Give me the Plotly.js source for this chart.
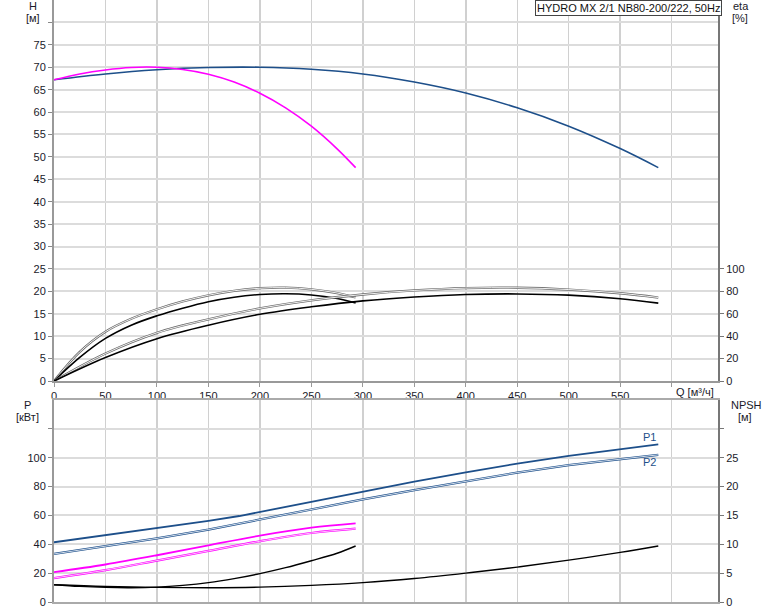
<!DOCTYPE html>
<html>
<head>
<meta charset="utf-8">
<script src="https://cdn.plot.ly/plotly-3.0.1.min.js"></script>
<style>html,body{margin:0;padding:0;background:#fff;}#chart{width:774px;height:611px;}</style>
</head>
<body>
<div id="chart"></div>
<script>
// ---- Data ----
// Single pump (magenta) flow points, m3/h
const qSmall = [0, 25, 50, 75, 100, 125, 150, 175, 200, 225, 250, 275, 293];
const hSmall = [67.2, 68.5, 69.4, 69.95, 70.0, 69.5, 68.45, 66.7, 64.2, 60.95, 56.85, 51.8, 47.6];
const etaSmallA = [0, 26, 44, 55.5, 64, 71, 76.5, 80.5, 82.8, 83.3, 81.8, 78.5, 74.6];   // light/double curve
const etaSmallB = [0, 21, 38, 49.8, 58.2, 65, 70.8, 74.8, 77.2, 77.9, 76.8, 73.6, 69.6]; // black curve
const npshSmall = [3.0, 2.7, 2.53, 2.48, 2.58, 2.88, 3.35, 4.05, 4.92, 5.95, 7.15, 8.45, 9.7];

const qSmallP = [0, 50, 100, 150, 200, 250, 293];
const p1Small = [20.7, 26, 32.4, 39.3, 46, 51.5, 54.5];
const p2Small = [16.6, 22.1, 28.7, 35.4, 42.1, 47.8, 50.8];

// Two pumps (blue) flow points, m3/h
const qLarge = [0, 50, 100, 150, 200, 250, 300, 350, 400, 450, 500, 550, 587];
const hLarge = [67.2, 68.5, 69.43, 69.93, 70.0, 69.55, 68.5, 66.7, 64.25, 60.95, 56.85, 51.85, 47.6];
const etaLargeA = [0, 24.5, 43, 55, 64.8, 72, 77.2, 80.8, 82.9, 83.2, 81.6, 78.3, 74.5];
const etaLargeB = [0, 21, 37.8, 49.8, 59.5, 66.2, 71.5, 75, 77.2, 77.7, 76.6, 73.4, 69.5];
const npshLarge = [3.0, 2.7, 2.53, 2.48, 2.58, 2.88, 3.35, 4.07, 5.0, 6.05, 7.25, 8.6, 9.71];

const qLargeP1 = [0, 50, 100, 150, 180, 200, 250, 300, 350, 400, 450, 500, 550, 587];
const p1Large = [41.4, 46.3, 51.3, 56.3, 59.6, 62.4, 69.5, 76.8, 83.4, 89.9, 95.9, 101.3, 105.9, 109.2];
const qLargeP2 = [0, 50, 100, 150, 200, 250, 300, 350, 400, 450, 500, 550, 587];
const p2Large = [33.3, 38.5, 44.1, 50.2, 57.3, 64.3, 71.1, 77.5, 83.8, 89.7, 94.9, 99.1, 102];

// Axis ticks
const qTicks = [0, 50, 100, 150, 200, 250, 300, 350, 400, 450, 500, 550, 600];
const qTickText = ['0','50','100','150','200','250','300','350','400','450','500','550',''];
const hTicks = [0,5,10,15,20,25,30,35,40,45,50,55,60,65,70,75,80];
const hTickText = ['0','5','10','15','20','25','30','35','40','45','50','55','60','65','70','75',''];
const etaTicks = [0, 20, 40, 60, 80, 100];
const pTicks = [0, 20, 40, 60, 80, 100, 120];
const pTickText = ['0','20','40','60','80','100',''];
const npshTicks = [0, 5, 10, 15, 20, 25, 30];
const npshTickText = ['0','5','10','15','20','25',''];

const title = 'HYDRO MX 2/1 NB80-200/222, 50Hz';

// ---- Styles ----
const BLUE = '#1d4f8a';
const MAG = '#ff00ff';
const W = 774, H = 611;
const FONT = 'Liberation Sans, Arial, sans-serif';
const TXT = '#1a1a2a';

function line(x, y, xa, ya, color, width, shape) {
  return {x: x, y: y, xaxis: xa, yaxis: ya, type: 'scatter', mode: 'lines',
    hoverinfo: 'skip', line: {color: color, width: width, shape: shape || 'spline', smoothing: 1}};
}
function dbl(x, y, xa, ya, color, inner, shape, w) {
  return [line(x, y, xa, ya, color, w || 2.3, shape), line(x, y, xa, ya, inner, 0.9, shape)];
}

const traces = [
  // H curves
  line(qLarge, hLarge, 'x', 'y', BLUE, 1.6),
  line(qSmall, hSmall, 'x', 'y', MAG, 1.6),
  // efficiency curves
  ...dbl(qSmall, etaSmallA, 'x', 'y2', '#6a6a6a', '#ffffff'),
  line(qSmall, etaSmallB, 'x', 'y2', '#000', 1.6),
  ...dbl(qLarge, etaLargeA, 'x', 'y2', '#6a6a6a', '#ffffff'),
  line(qLarge, etaLargeB, 'x', 'y2', '#000', 1.6),
  // power curves
  line(qLargeP1, p1Large, 'x2', 'y3', BLUE, 1.8, 'linear'),
  ...dbl(qLargeP2, p2Large, 'x2', 'y3', BLUE, '#e6edf6', 'linear', 2.2),
  line(qSmallP, p1Small, 'x2', 'y3', MAG, 1.8),
  ...dbl(qSmallP, p2Small, 'x2', 'y3', MAG, '#ffd6ff', 'spline', 2.2),
  // NPSH
  line(qSmall, npshSmall, 'x2', 'y4', '#000', 1.4),
  line(qLarge, npshLarge, 'x2', 'y4', '#000', 1.4)
];

const xdom = [54 / W, 718 / W];
const topDom = [(H - 381) / H, 1];
const botDom = [(H - 602) / H, (H - 400) / H];
const tickfont = {family: FONT, size: 11, color: TXT};

const gridH = '#dcdcdc', gridV = '#d0d0d0';

const layout = {
  width: W, height: H,
  margin: {l: 0, r: 0, t: 0, b: 0},
  paper_bgcolor: '#fff', plot_bgcolor: '#fff',
  showlegend: false,
  font: {family: FONT, size: 11, color: TXT},
  xaxis: {domain: xdom, anchor: 'y', range: [0, 645], tickmode: 'array', tickvals: qTicks, ticktext: qTickText,
    showgrid: true, gridcolor: gridV, gridwidth: 1.5, zeroline: false,
    showline: true, linecolor: '#999', linewidth: 2, ticks: 'outside', ticklen: 4, tickcolor: '#999', tickfont: tickfont},
  yaxis: {domain: topDom, anchor: 'x', range: [0, 85], tickmode: 'array', tickvals: hTicks, ticktext: hTickText,
    showgrid: true, gridcolor: gridH, gridwidth: 2, zeroline: false,
    showline: true, linecolor: '#999', linewidth: 2, ticks: 'outside', ticklen: 4, tickcolor: '#888', tickfont: tickfont},
  yaxis2: {overlaying: 'y', side: 'right', anchor: 'x', range: [0, 340], tickmode: 'array', tickvals: etaTicks,
    showgrid: false, zeroline: false, showline: true, linecolor: '#777', linewidth: 2,
    ticks: 'outside', ticklen: 4, tickcolor: '#777', tickfont: tickfont},
  xaxis2: {domain: xdom, anchor: 'y3', range: [0, 645], tickmode: 'array', tickvals: qTicks, showticklabels: false,
    showgrid: true, gridcolor: gridV, gridwidth: 1.5, zeroline: false,
    showline: true, mirror: true, linecolor: '#aaa', linewidth: 2, ticks: ''},
  yaxis3: {domain: botDom, anchor: 'x2', range: [0, 140], tickmode: 'array', tickvals: pTicks, ticktext: pTickText,
    showgrid: true, gridcolor: gridH, gridwidth: 2, zeroline: false,
    showline: true, linecolor: '#999', linewidth: 2, ticks: 'outside', ticklen: 4, tickcolor: '#888', tickfont: tickfont},
  yaxis4: {overlaying: 'y3', side: 'right', anchor: 'x2', range: [0, 35], tickmode: 'array', tickvals: npshTicks, ticktext: npshTickText,
    showgrid: false, zeroline: false, showline: true, linecolor: '#777', linewidth: 2,
    ticks: 'outside', ticklen: 4, tickcolor: '#777', tickfont: tickfont},
  annotations: []
};

function ann(text, px, py, opts) {
  const a = Object.assign({text: text, xref: 'paper', yref: 'paper', x: px / W, y: 1 - py / H,
    xanchor: 'center', yanchor: 'middle', showarrow: false, font: {family: FONT, size: 11, color: TXT}}, opts || {});
  layout.annotations.push(a);
}
ann('H', 33, 6);
ann('[м]', 33, 18);
ann('eta', 741, 6);
ann('[%]', 740, 18);
ann('P', 27, 405);
ann('[кВт]', 27, 417);
ann('NPSH', 746, 405);
ann('[м]', 745, 417);
ann('Q [м³/ч]', 695, 392);
ann('P1', 649, 437, {font: {family: FONT, size: 11, color: BLUE}});
ann('P2', 649, 462, {font: {family: FONT, size: 11, color: BLUE}});
ann(title, 628, 8, {bgcolor: '#fff', bordercolor: '#444', borderwidth: 1, borderpad: 1,
  font: {family: FONT, size: 11, color: '#111'}});

Plotly.newPlot('chart', traces, layout, {staticPlot: true, displayModeBar: false});
</script>
</body>
</html>
